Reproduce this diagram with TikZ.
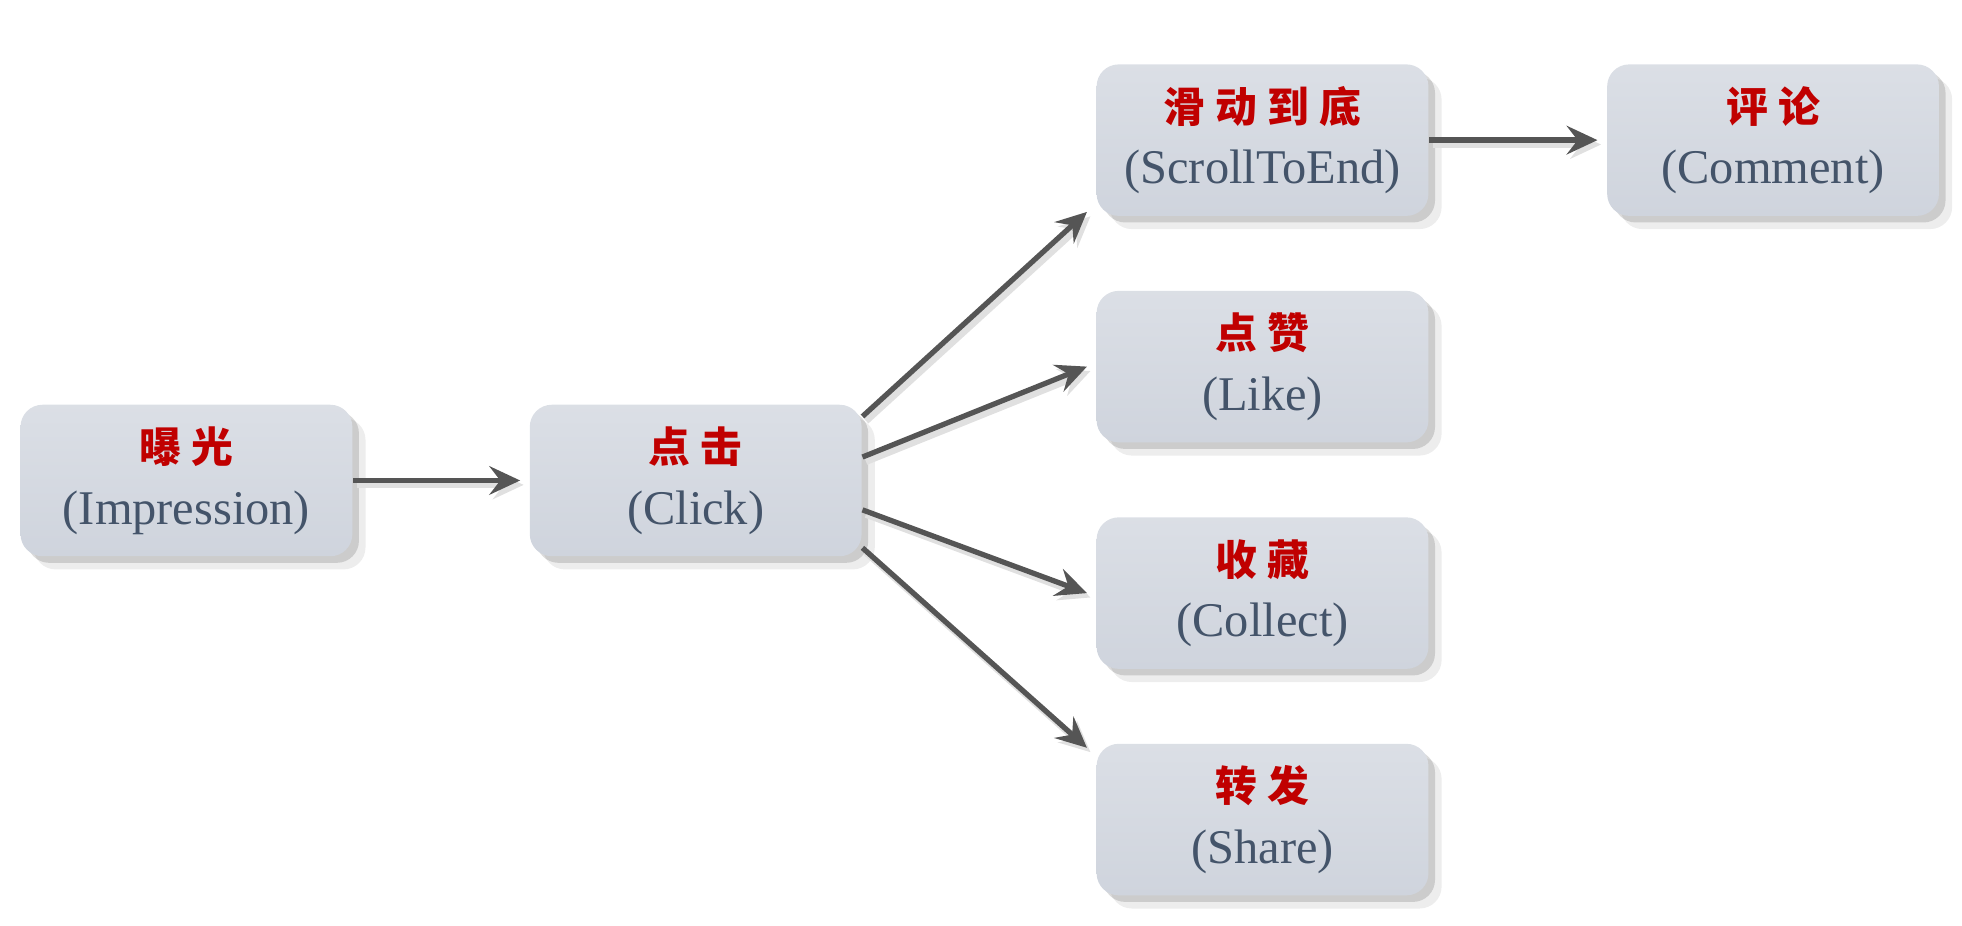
\documentclass[tikz,border=0pt]{standalone}
\usepackage{fontspec}
\setmainfont{Liberation Serif}
\newfontfamily\cjk{Noto Sans CJK SC}[LetterSpace=25]
\usepackage{tikz}
\usetikzlibrary{arrows.meta,shadows}
\definecolor{boxcol}{HTML}{CFD4DD}
\definecolor{zhcol}{HTML}{C00000}
\definecolor{encol}{HTML}{44546A}
\definecolor{arcol}{HTML}{555555}
\newcommand{\stage}[2]{{\cjk\bfseries\fontsize{9.5}{14}\selectfont\color{zhcol}#1}\\{\color{encol}(#2)}}

\begin{document}
\begin{tikzpicture}[x=0.01cm, y=-0.01cm,
  box/.style={rectangle, rounded corners=5pt, top color=boxcol!75!white, bottom color=boxcol,
              minimum width=2.65cm, minimum height=1.21cm, align=center,
              font=\fontsize{11}{14}\selectfont,
              drop shadow={shadow xshift=3pt, shadow yshift=-3pt, fill=black, opacity=0.07},
              drop shadow={shadow xshift=1.5pt, shadow yshift=-1.5pt, fill=black, opacity=0.14}},
  ar/.style={-{Stealth[length=7pt, width=6.5pt, inset=2.5pt]}, line width=1.2pt, draw=arcol,
             preaction={draw=black!12, line width=1.6pt, transform canvas={xshift=0.8pt, yshift=-1pt}}}
]
\useasboundingbox (0,0) rectangle (1568,740);

\node[box] (imp)    at ( 149, 384) {\stage{曝光}{Impression}};
\node[box] (clk)    at ( 556, 384) {\stage{点击}{Click}};
\node[box] (scroll) at (1009, 112) {\stage{滑动到底}{ScrollToEnd}};
\node[box] (like)   at (1009, 293) {\stage{点赞}{Like}};
\node[box] (coll)   at (1009, 474) {\stage{收藏}{Collect}};
\node[box] (share)  at (1009, 655) {\stage{转发}{Share}};
\node[box] (cmt)    at (1417, 112) {\stage{评论}{Comment}};

\draw[ar] (imp.east) -- ([xshift=-2pt]clk.west);
\draw[ar] (clk.21)  -- ([shift={(-2pt,-1pt)}]scroll.202);
\draw[ar] (clk.8)   -- ([xshift=-2pt]like.west);
\draw[ar] (clk.-10) -- ([xshift=-2pt]coll.west);
\draw[ar] (clk.-22) -- ([shift={(-2pt,1pt)}]share.158);
\draw[ar] (scroll.east) -- ([xshift=-2pt]cmt.west);
\end{tikzpicture}
\end{document}
